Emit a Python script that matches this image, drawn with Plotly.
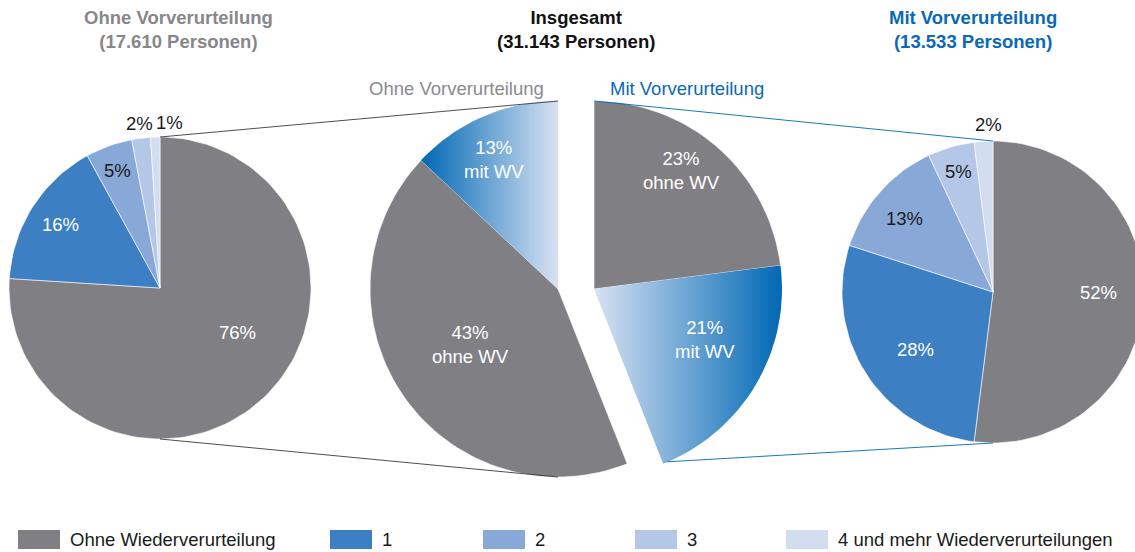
import numpy as np
import plotly.graph_objects as go

# ---------------- data ----------------
categories = ["Ohne Wiederverurteilung", "1", "2", "3", "4 und mehr Wiederverurteilungen"]
ohne_vv_pct = [76, 16, 5, 2, 1]          # Ohne Vorverurteilung (17.610 Personen)
mit_vv_pct = [52, 28, 13, 5, 2]          # Mit Vorverurteilung (13.533 Personen)

center_groups = ["Mit Vorverurteilung", "Ohne Vorverurteilung"]
center_labels = [["ohne WV", "mit WV"], ["ohne WV", "mit WV"]]
center_mit_pct = [23, 21]                # Insgesamt, mit Vorverurteilung
center_ohne_pct = [43, 13]               # Insgesamt, ohne Vorverurteilung

titles = [
    ["Ohne Vorverurteilung", "(17.610 Personen)"],
    ["Insgesamt", "(31.143 Personen)"],
    ["Mit Vorverurteilung", "(13.533 Personen)"],
]

# ---------------- style / layout ----------------
W, H = 1135, 552
FONT = "Liberation Sans, Arial, Helvetica, sans-serif"
FS = 18.5
GRAY = "#807f84"
cat_colors = [GRAY, "#3c7fc3", "#88a8d7", "#b4c7e7", "#d3ddf0"]
DARK_BLUE = "#0068b4"
PALE_BLUE = "#d8e2f3"
TITLE_GRAY = "#87878b"
TITLE_BLUE = "#0a69b4"

L_C, L_R = (160, 288), 151
R_C, R_R = (993, 292), 151
CL_C, CR_C, C_R = (558, 289), (594, 289), 188

fig = go.Figure()


def arc_pts(c, r, f0, f1, n=160):
    th = np.linspace(2 * np.pi * f0, 2 * np.pi * f1, max(3, int(n * (f1 - f0)) + 2))
    return c[0] + r * np.sin(th), c[1] - r * np.cos(th)


def wedge(c, r, f0, f1):
    ax, ay = arc_pts(c, r, f0, f1)
    xs = np.concatenate([[c[0]], ax, [c[0]]])
    ys = np.concatenate([[c[1]], ay, [c[1]]])
    return xs, ys


def polar(c, r, frac):
    th = 2 * np.pi * frac
    return c[0] + r * np.sin(th), c[1] - r * np.cos(th)


def add_wedge(c, r, f0, f1, color=None, gradient=None):
    xs, ys = wedge(c, r, f0, f1)
    kw = dict(x=xs, y=ys, mode="lines", fill="toself", line=dict(width=0.6, color="white"),
              hoverinfo="skip", showlegend=False)
    if gradient:
        kw["fillgradient"] = dict(type="horizontal", colorscale=[[0, gradient[0]], [1, gradient[1]]])
        kw["line"] = dict(width=0)
    else:
        kw["fillcolor"] = color
    fig.add_trace(go.Scatter(**kw))


def add_label(c, r, mid, rf, text, color, dang=0.0):
    x, y = polar(c, r * rf, mid + dang / 360.0)
    fig.add_annotation(x=x, y=y, text=text, showarrow=False, xanchor="center", yanchor="middle",
                       font=dict(family=FONT, size=FS, color=color))


def simple_pie(c, r, vals, rfs, dangs, txt_colors):
    tot = float(sum(vals))
    cum = 0.0
    for i, v in enumerate(vals):
        f0, f1 = cum / tot, (cum + v) / tot
        add_wedge(c, r, f0, f1, color=cat_colors[i])
        add_label(c, r, (f0 + f1) / 2, rfs[i], f"{v}%", txt_colors[i], dangs[i])
        cum += v


# left pie
simple_pie(L_C, L_R, ohne_vv_pct, [0.59, 0.78, 0.83, 1.1, 1.1], [-16.8, 0, 0, 0, 5.2],
           ["white", "white", "#1a1a1a", "#1a1a1a", "#1a1a1a"])
# right pie
simple_pie(R_C, R_R, mit_vv_pct, [0.7, 0.64, 0.76, 0.83, 1.11], [-3.6, -4, -1.5, 0, 2],
           ["white", "white", "#1a1a1a", "#1a1a1a", "#1a1a1a"])

# center (exploded) pie
tot_c = float(sum(center_mit_pct) + sum(center_ohne_pct))
cum = 0.0
center_bounds = []
for g, (vals, c) in enumerate([(center_mit_pct, CR_C), (center_ohne_pct, CL_C)]):
    for j, v in enumerate(vals):
        f0, f1 = cum / tot_c, (cum + v) / tot_c
        center_bounds.append((f0, f1))
        if j == 0:
            add_wedge(c, C_R, f0, f1, color=GRAY)
        else:
            grad = (PALE_BLUE, DARK_BLUE) if g == 0 else (DARK_BLUE, PALE_BLUE)
            add_wedge(c, C_R, f0, f1, gradient=grad)
        cum += v

c_rfs = [0.78, 0.65, 0.55, 0.77]
c_dang = [-5, -6, 2, -3]
k = 0
for g, (vals, c) in enumerate([(center_mit_pct, CR_C), (center_ohne_pct, CL_C)]):
    for j, v in enumerate(vals):
        f0, f1 = center_bounds[k]
        add_label(c, C_R, (f0 + f1) / 2, c_rfs[k], f"{v}%<br>{center_labels[g][j]}", "white", c_dang[k])
        k += 1

# connector lines
lt = (L_C[0], L_C[1] - L_R)
lb = (L_C[0], L_C[1] + L_R)
clt = (CL_C[0], CL_C[1] - C_R)
clb = (CL_C[0], CL_C[1] + C_R)
fig.add_trace(go.Scatter(x=[lt[0], clt[0]], y=[lt[1], clt[1]], mode="lines",
                         line=dict(color="#3a3a3a", width=0.9), hoverinfo="skip", showlegend=False))
fig.add_trace(go.Scatter(x=[lb[0], clb[0]], y=[lb[1], clb[1]], mode="lines",
                         line=dict(color="#3a3a3a", width=0.9), hoverinfo="skip", showlegend=False))
crt = (CR_C[0], CR_C[1] - C_R)
tip = polar(CR_C, C_R, center_bounds[1][1])
rt = (R_C[0], R_C[1] - R_R)
rb = (R_C[0], R_C[1] + R_R)
fig.add_trace(go.Scatter(x=[crt[0], rt[0]], y=[crt[1], rt[1]], mode="lines",
                         line=dict(color=DARK_BLUE, width=0.9), hoverinfo="skip", showlegend=False))
fig.add_trace(go.Scatter(x=[tip[0] + 4, rb[0]], y=[tip[1] - 2, rb[1]], mode="lines",
                         line=dict(color=DARK_BLUE, width=0.9), hoverinfo="skip", showlegend=False))

# titles
title_x = [178, 576, 973]
title_col = [TITLE_GRAY, "#111111", TITLE_BLUE]
for t, x, col in zip(titles, title_x, title_col):
    fig.add_annotation(x=x, y=29, text="<b>" + t[0] + "</b><br><b>" + t[1] + "</b>", showarrow=False,
                       xanchor="center", yanchor="middle",
                       font=dict(family=FONT, size=FS, color=col))

# group labels over center pie
fig.add_annotation(x=CL_C[0] - 12, y=88, text=center_groups[1], showarrow=False, xanchor="right",
                   yanchor="middle", font=dict(family=FONT, size=FS, color="#8a8a8e"))
fig.add_annotation(x=CR_C[0] + 14, y=88, text=center_groups[0], showarrow=False, xanchor="left",
                   yanchor="middle", font=dict(family=FONT, size=FS, color=TITLE_BLUE))

# legend
leg_x = [18, 330, 483, 635, 786]
leg_y0, leg_y1, sw_w = 530, 549, 42
for i, (name, x) in enumerate(zip(categories, leg_x)):
    fig.add_shape(type="rect", x0=x, x1=x + sw_w, y0=leg_y0, y1=leg_y1, xref="x", yref="y",
                  fillcolor=cat_colors[i], line=dict(width=0))
    fig.add_annotation(x=x + sw_w + 8, y=(leg_y0 + leg_y1) / 2, text=name, showarrow=False,
                       xanchor="left", yanchor="middle",
                       font=dict(family=FONT, size=FS, color="#1a1a1a"))

fig.update_layout(
    width=W, height=H, margin=dict(l=0, r=0, t=0, b=0),
    paper_bgcolor="white", plot_bgcolor="white", showlegend=False,
    xaxis=dict(range=[0, W], visible=False, fixedrange=True),
    yaxis=dict(range=[H, 0], visible=False, fixedrange=True),
)

fig.write_html("out.html", config={"displayModeBar": False},
               post_script="document.body.style.margin='0';document.body.style.overflow='hidden';")
